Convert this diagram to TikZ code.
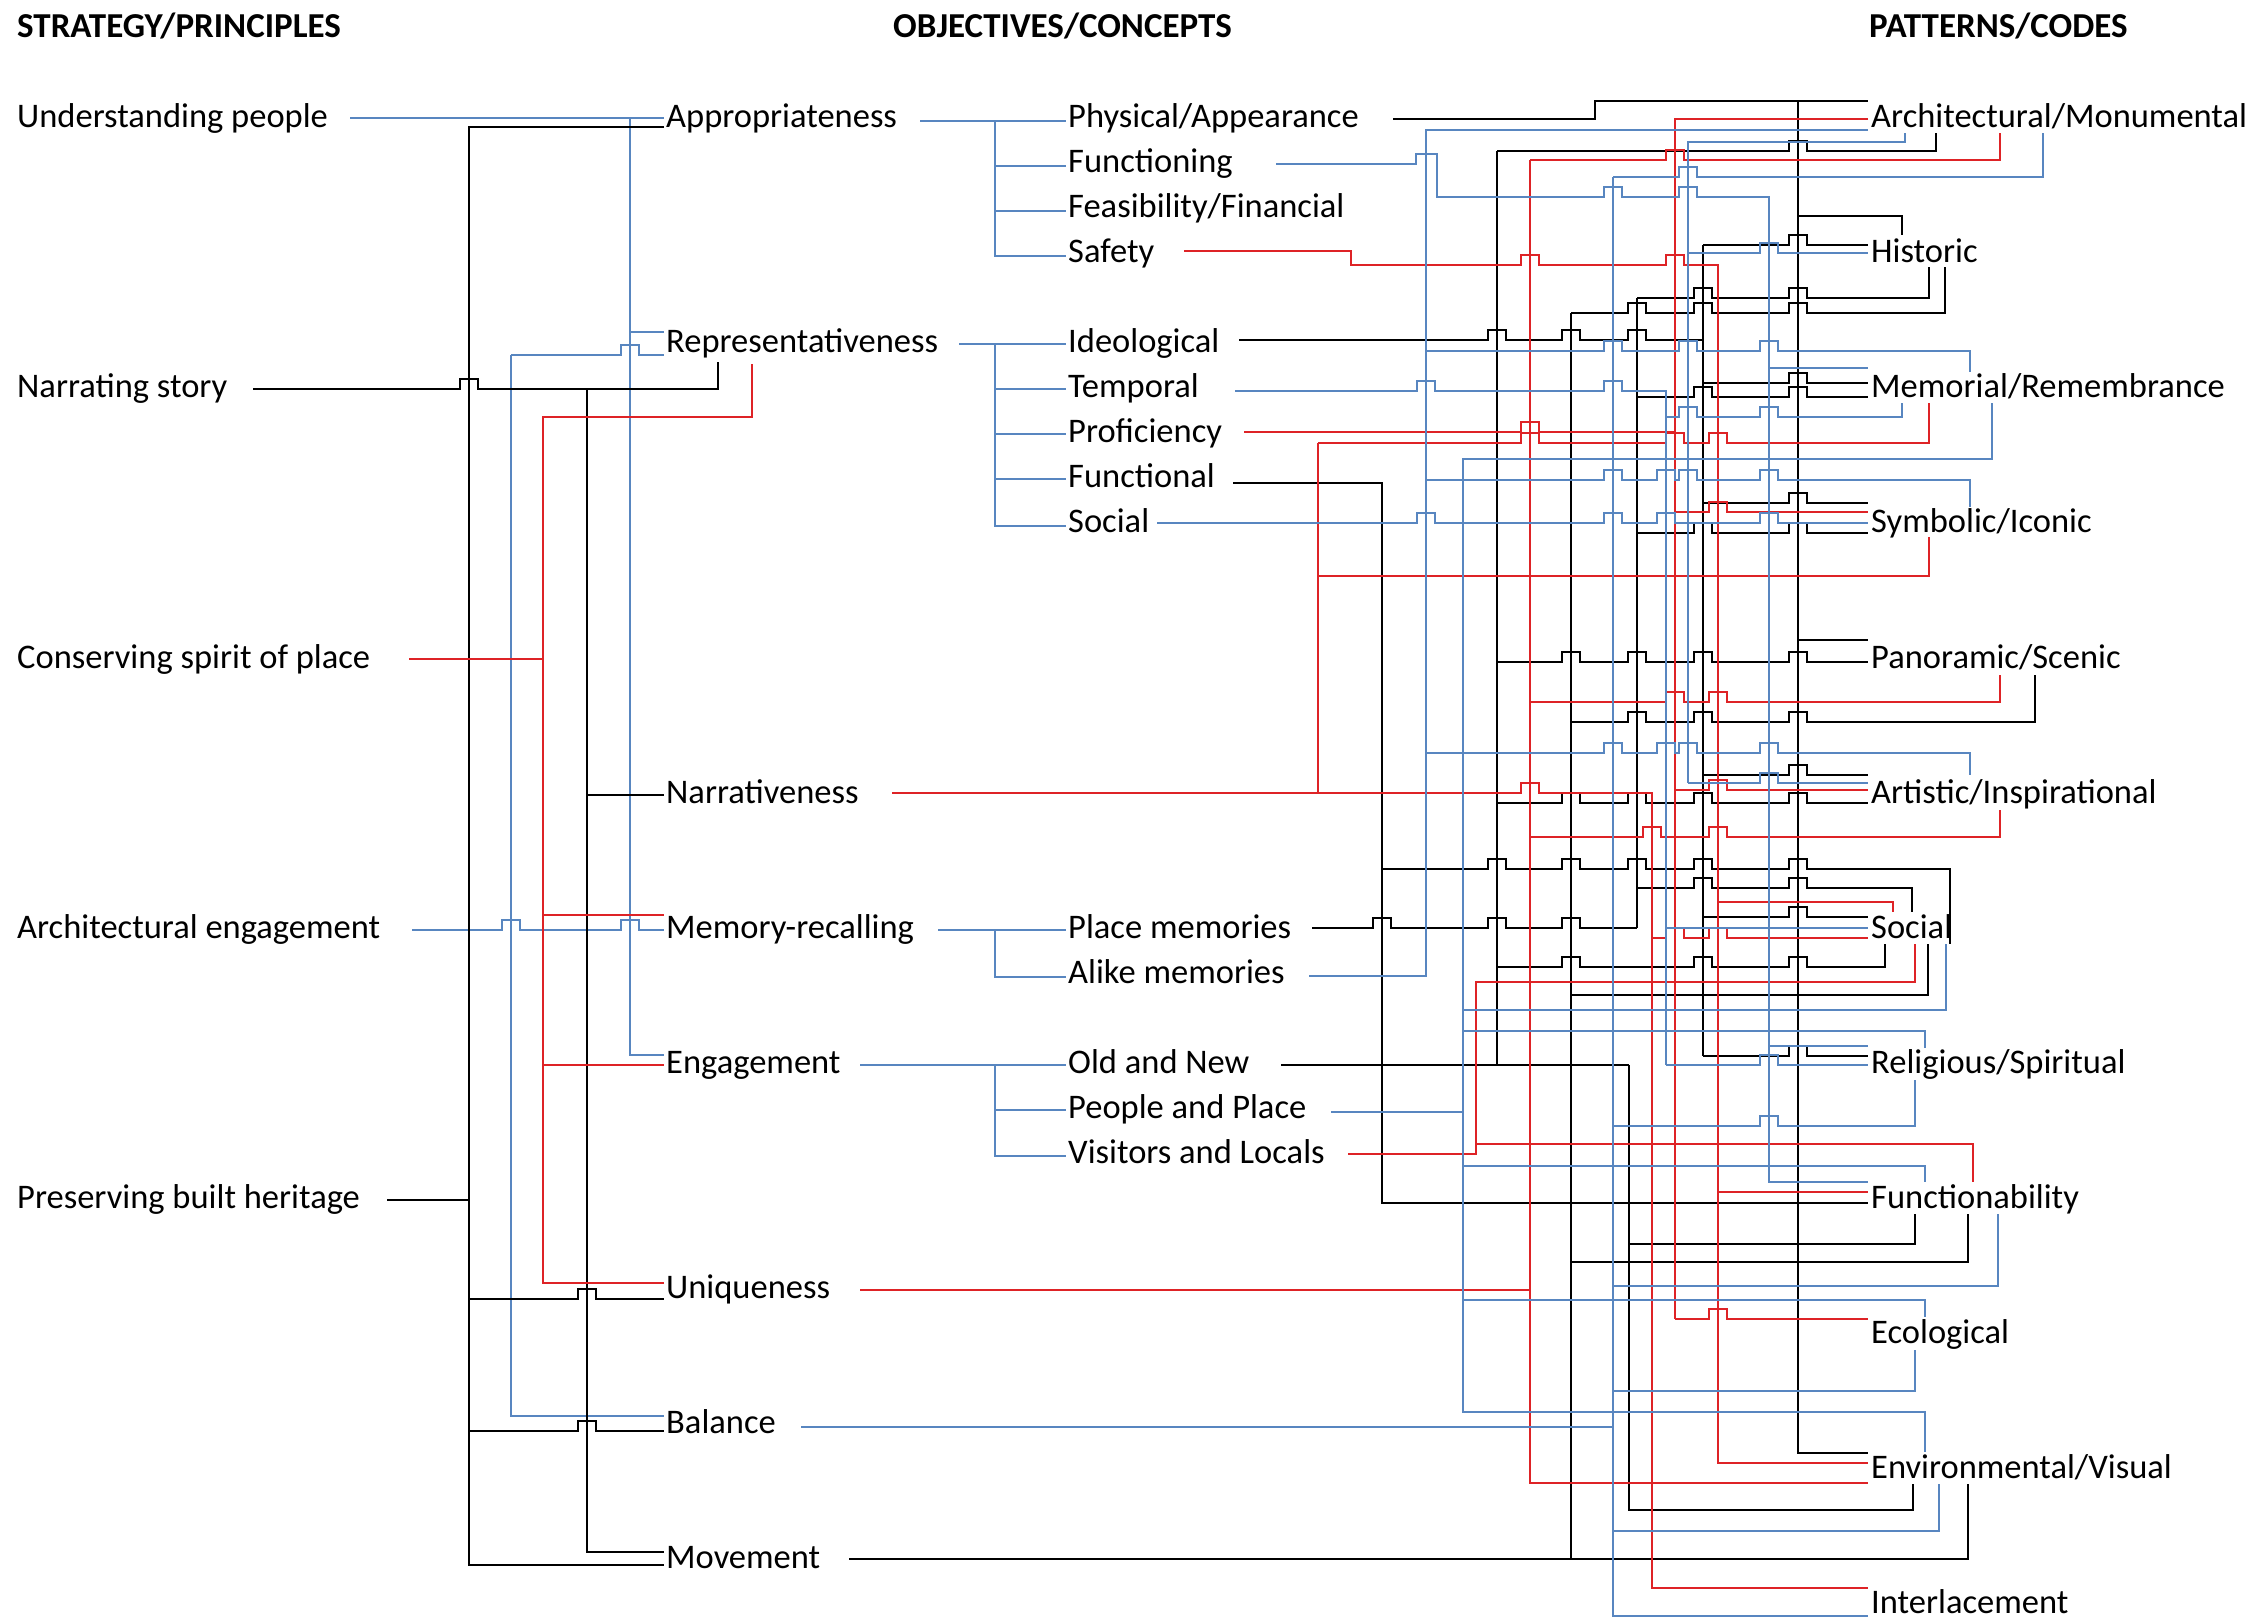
\documentclass[tikz,border=0pt]{standalone}
\usepackage{fontspec}
\setmainfont{Carlito}
\usetikzlibrary{calc}
\definecolor{wblue}{RGB}{88,134,192}
\definecolor{wred}{RGB}{222,35,38}
% horizontal wire with hops: style, y, start path, end path, hop x list
\newcommand{\hwire}[5]{\draw[#1] #3 foreach \h in {#5} {-- (\h-9,#2) -- (\h-9,#2-10) -- (\h+9,#2-10) -- (\h+9,#2)} -- #4;}
\begin{document}
\begin{tikzpicture}[x=1pt,y=-1pt,
  lab/.style={anchor=west, inner sep=0pt, text height=28pt, text depth=7pt, font=\fontsize{34.5}{40}\selectfont},
  hd/.style={lab, font=\fontsize{35}{40}\selectfont\bfseries},
  bk/.style={draw=black, line width=2.6pt, line join=miter},
  bl/.style={draw=wblue, line width=2.3pt, line join=miter},
  rd/.style={draw=wred, line width=2.3pt, line join=miter}]
\fill[white] (0,0) rectangle (2256,1622);
\useasboundingbox (0,0) rectangle (2256,1622);

% headers
\node[hd] (h1) at (17,27) {STRATEGY/PRINCIPLES};
\node[hd] (h2) at (893,27) {OBJECTIVES/CONCEPTS};
\node[hd] (h3) at (1869,27) {PATTERNS/CODES};

% strategies
\node[lab] (s1) at (17,117) {Understanding people};
\node[lab] (s2) at (17,387) {Narrating story};
\node[lab] (s3) at (17,657.5) {Conserving spirit of place};
\node[lab] (s4) at (17,928) {Architectural engagement};
\node[lab] (s5) at (17,1198) {Preserving built heritage};

% objectives
\node[lab] (o1) at (666,117) {Appropriateness};
\node[lab] (o2) at (666,342) {Representativeness};
\node[lab] (o3) at (666,793) {Narrativeness};
\node[lab] (o4) at (666,928) {Memory-recalling};
\node[lab] (o5) at (666,1063) {Engagement};
\node[lab] (o6) at (666,1288) {Uniqueness};
\node[lab] (o7) at (666,1423) {Balance};
\node[lab] (o8) at (666,1558) {Movement};

% concepts
\node[lab] (c1) at (1068,117) {Physical/Appearance};
\node[lab] (c2) at (1068,162) {Functioning};
\node[lab] (c3) at (1068,207) {Feasibility/Financial};
\node[lab] (c4) at (1068,252) {Safety};
\node[lab] (c5) at (1068,342) {Ideological};
\node[lab] (c6) at (1068,387) {Temporal};
\node[lab] (c7) at (1068,432) {Proficiency};
\node[lab] (c8) at (1068,477) {Functional};
\node[lab] (c9) at (1068,522) {Social};
\node[lab] (c10) at (1068,928) {Place memories};
\node[lab] (c11) at (1068,973) {Alike memories};
\node[lab] (c12) at (1068,1063) {Old and New};
\node[lab] (c13) at (1068,1108) {People and Place};
\node[lab] (c14) at (1068,1153) {Visitors and Locals};

% patterns
\node[lab] (p1) at (1871,117) {Architectural/Monumental};
\node[lab] (p2) at (1871,252) {Historic};
\node[lab] (p3) at (1871,387) {Memorial/Remembrance};
\node[lab] (p4) at (1871,522) {Symbolic/Iconic};
\node[lab] (p5) at (1871,657.5) {Panoramic/Scenic};
\node[lab] (p6) at (1871,793) {Artistic/Inspirational};
\node[lab] (p7) at (1871,928) {Social};
\node[lab] (p8) at (1871,1063) {Religious/Spiritual};
\node[lab] (p9) at (1871,1198) {Functionability};
\node[lab] (p10) at (1871,1333) {Ecological};
\node[lab] (p11) at (1871,1468) {Environmental/Visual};
\node[lab] (p12) at (1871,1603) {Interlacement};

%================ left tree ================
% Understanding people (blue)
\draw[bl] (350,118) -- (664,118);
\draw[bl] (630,118) -- (630,1055) -- (664,1055);
\draw[bl] (630,332) -- (664,332);
% Representativeness -> Balance (blue)
\draw[bl] (511,355) -- (511,1416) -- (664,1416);
\hwire{bl}{355}{(511,355)}{(664,355)}{630}
% Architectural engagement (blue)
\hwire{bl}{930}{(412,930)}{(664,930)}{511,630}
% Preserving built heritage (black)
\draw[bk] (664,127) -- (469,127) -- (469,1565) -- (664,1565);
\draw[bk] (387,1200) -- (469,1200);
\hwire{bk}{1299}{(469,1299)}{(664,1299)}{587}
\hwire{bk}{1431}{(469,1431)}{(664,1431)}{587}
% Narrating story (black)
\hwire{bk}{389}{(253,389)}{(718,389) -- (718,362)}{469}
\draw[bk] (587,389) -- (587,1552) -- (664,1552);
\draw[bk] (587,795) -- (664,795);
% Conserving spirit of place (red)
\draw[rd] (409,659) -- (543,659);
\draw[rd] (752,364) -- (752,417) -- (543,417) -- (543,1283) -- (664,1283);
\draw[rd] (543,915) -- (664,915);
\draw[rd] (543,1065) -- (664,1065);

%================ middle tree (blue) ================
\draw[bl] (920,121) -- (995,121) -- (995,256) -- (1066,256);
\foreach \yy in {121,166,211} \draw[bl] (995,\yy) -- (1066,\yy);
\draw[bl] (959,344) -- (995,344) -- (995,526) -- (1066,526);
\foreach \yy in {344,389,434,479} \draw[bl] (995,\yy) -- (1066,\yy);
\draw[bl] (938,930) -- (995,930) -- (995,977) -- (1066,977);
\draw[bl] (995,930) -- (1066,930);
\draw[bl] (860,1065) -- (995,1065) -- (995,1156) -- (1066,1156);
\foreach \yy in {1065,1110} \draw[bl] (995,\yy) -- (1066,\yy);

%================ right wiring ================
% --- black ---
% Physical/Appearance (1798)
\draw[bk] (1393,119) -- (1595,119) -- (1595,101) -- (1868,101);
\draw[bk] (1798,101) -- (1798,1453) -- (1868,1453);
\draw[bk] (1798,216) -- (1902,216) -- (1902,235);
\draw[bk] (1798,640) -- (1868,640);
% Ideological (1703)
\hwire{bk}{340}{(1239,340)}{(1703,340)}{1497,1571,1637}
\draw[bk] (1703,245) -- (1703,1056);
\hwire{bk}{245}{(1703,245)}{(1868,245)}{1798}
\hwire{bk}{383}{(1703,383)}{(1868,383)}{1798}
\hwire{bk}{503}{(1703,503)}{(1868,503)}{1798}
\hwire{bk}{775}{(1703,775)}{(1868,775)}{1798}
\hwire{bk}{917}{(1703,917)}{(1868,917)}{1798}
\hwire{bk}{1056}{(1703,1056)}{(1868,1056)}{1798}
% Place memories (1637)
\hwire{bk}{928}{(1312,928)}{(1637,928)}{1382,1497,1571}
\draw[bk] (1637,298) -- (1637,928);
\hwire{bk}{298}{(1637,298)}{(1929,298) -- (1929,267)}{1703,1798}
\hwire{bk}{397}{(1637,397)}{(1868,397)}{1703,1798}
\hwire{bk}{533}{(1637,533)}{(1868,533)}{1703,1798}
\hwire{bk}{888}{(1637,888)}{(1912,888) -- (1912,912)}{1703,1798}
% Old and New (1497 up, 1629 down)
\draw[bk] (1281,1065) -- (1629,1065);
\draw[bk] (1629,1065) -- (1629,1510) -- (1913,1510) -- (1913,1484);
\draw[bk] (1629,1244) -- (1915,1244) -- (1915,1214);
\draw[bk] (1497,151) -- (1497,1065);
\hwire{bk}{151}{(1497,151)}{(1936,151) -- (1936,133)}{1798}
\hwire{bk}{662}{(1497,662)}{(1868,662)}{1571,1637,1703,1798}
\hwire{bk}{803}{(1497,803)}{(1868,803)}{1571,1637,1703,1798}
\hwire{bk}{967}{(1497,967)}{(1885,967) -- (1885,944)}{1571,1703,1798}
% Movement (1571)
\draw[bk] (849,1559) -- (1968,1559) -- (1968,1484);
\draw[bk] (1571,313) -- (1571,1559);
\hwire{bk}{313}{(1571,313)}{(1945,313) -- (1945,267)}{1637,1703,1798}
\hwire{bk}{722}{(1571,722)}{(2035,722) -- (2035,675)}{1637,1703,1798}
\draw[bk] (1571,995) -- (1928,995) -- (1928,944);
\draw[bk] (1571,1262) -- (1968,1262) -- (1968,1214);
% Functional (1382)
\draw[bk] (1233,483) -- (1382,483) -- (1382,1203) -- (1868,1203);
\hwire{bk}{869}{(1382,869)}{(1950,869) -- (1950,944)}{1497,1571,1637,1703,1798}

% --- red ---
% Safety (1718)
\hwire{rd}{265}{(1184,251) -- (1351,251) -- (1351,265)}{(1718,265) -- (1718,1463) -- (1868,1463)}{1530,1675}
\draw[rd] (1718,902) -- (1893,902) -- (1893,912);
\draw[rd] (1718,1192) -- (1868,1192);
% Proficiency (1675)
\hwire{rd}{432}{(1244,432)}{(1675,432)}{1530}
\draw[rd] (1868,119) -- (1675,119) -- (1675,1319);
\hwire{rd}{512}{(1675,512)}{(1868,512)}{1718}
\hwire{rd}{790}{(1675,790)}{(1868,790)}{1718}
\hwire{rd}{1319}{(1675,1319)}{(1868,1319)}{1718}
% Uniqueness (1530)
\draw[rd] (860,1290) -- (1530,1290);
\draw[rd] (1530,160) -- (1530,1483) -- (1868,1483);
\hwire{rd}{160}{(1530,160)}{(2000,160) -- (2000,133)}{1675}
\hwire{rd}{702}{(1530,702)}{(2000,702) -- (2000,675)}{1675,1718}
\hwire{rd}{837}{(1530,837)}{(2000,837) -- (2000,810)}{1652,1718}
% Narrativeness (1318, 1652)
\hwire{rd}{793}{(892,793)}{(1652,793) -- (1652,1588) -- (1868,1588)}{1530}
\draw[rd] (1318,793) -- (1318,443);
\hwire{rd}{443}{(1318,443)}{(1929,443) -- (1929,403)}{1530,1675,1718}
\draw[rd] (1318,576) -- (1929,576) -- (1929,537);
\hwire{rd}{938}{(1652,938)}{(1868,938)}{1675,1718}
% Visitors and Locals (1476)
\draw[rd] (1348,1154) -- (1476,1154) -- (1476,982) -- (1915,982) -- (1915,944);
\draw[rd] (1476,1144) -- (1973,1144) -- (1973,1182);

% --- blue ---
% Alike memories (1426)
\draw[bl] (1309,976) -- (1426,976) -- (1426,130) -- (1868,130);
\hwire{bl}{351}{(1426,351)}{(1970,351) -- (1970,372)}{1613,1688,1769}
\hwire{bl}{480}{(1426,480)}{(1970,480) -- (1970,507)}{1613,1666,1688,1769}
\hwire{bl}{753}{(1426,753)}{(1970,753) -- (1970,775)}{1613,1666,1688,1769}
% People and Place (1463)
\draw[bl] (1331,1112) -- (1463,1112);
\draw[bl] (1992,403) -- (1992,459) -- (1463,459) -- (1463,1412) -- (1925,1412) -- (1925,1452);
\draw[bl] (1463,1010) -- (1946,1010) -- (1946,944);
\draw[bl] (1463,1031) -- (1925,1031) -- (1925,1048);
\draw[bl] (1463,1166) -- (1925,1166) -- (1925,1182);
\draw[bl] (1463,1300) -- (1925,1300) -- (1925,1317);
% Balance (1613)
\draw[bl] (801,1427) -- (1613,1427);
\draw[bl] (1613,177) -- (1613,1616) -- (1868,1616);
\hwire{bl}{177}{(1613,177)}{(2043,177) -- (2043,133)}{1688}
\hwire{bl}{1126}{(1613,1126)}{(1915,1126) -- (1915,1080)}{1769}
\draw[bl] (1613,1286) -- (1998,1286) -- (1998,1214);
\draw[bl] (1613,1391) -- (1915,1391) -- (1915,1350);
\draw[bl] (1613,1531) -- (1939,1531) -- (1939,1484);
% Temporal (1666)
\hwire{bl}{391}{(1235,391)}{(1666,391) -- (1666,1065)}{1426,1613}
\hwire{bl}{1065}{(1666,1065)}{(1868,1065)}{1769}
\hwire{bl}{417}{(1666,417)}{(1902,417) -- (1902,403)}{1688,1769}
\draw[bl] (1666,928) -- (1868,928);
% Social (1688)
\hwire{bl}{523}{(1157,523)}{(1868,523)}{1426,1613,1666,1769}
\draw[bl] (1905,133) -- (1905,142) -- (1688,142) -- (1688,783);
\hwire{bl}{253}{(1688,253)}{(1868,253)}{1769}
\hwire{bl}{783}{(1688,783)}{(1868,783)}{1769}
% Functioning (1769)
\hwire{bl}{197}{(1276,164) -- (1416,164) -- (1416,154) -- (1437,154) -- (1437,197)}{(1769,197) -- (1769,1182) -- (1868,1182)}{1613,1688}
\draw[bl] (1769,368) -- (1868,368);
\draw[bl] (1769,1046) -- (1868,1046);
\end{tikzpicture}
\end{document}
